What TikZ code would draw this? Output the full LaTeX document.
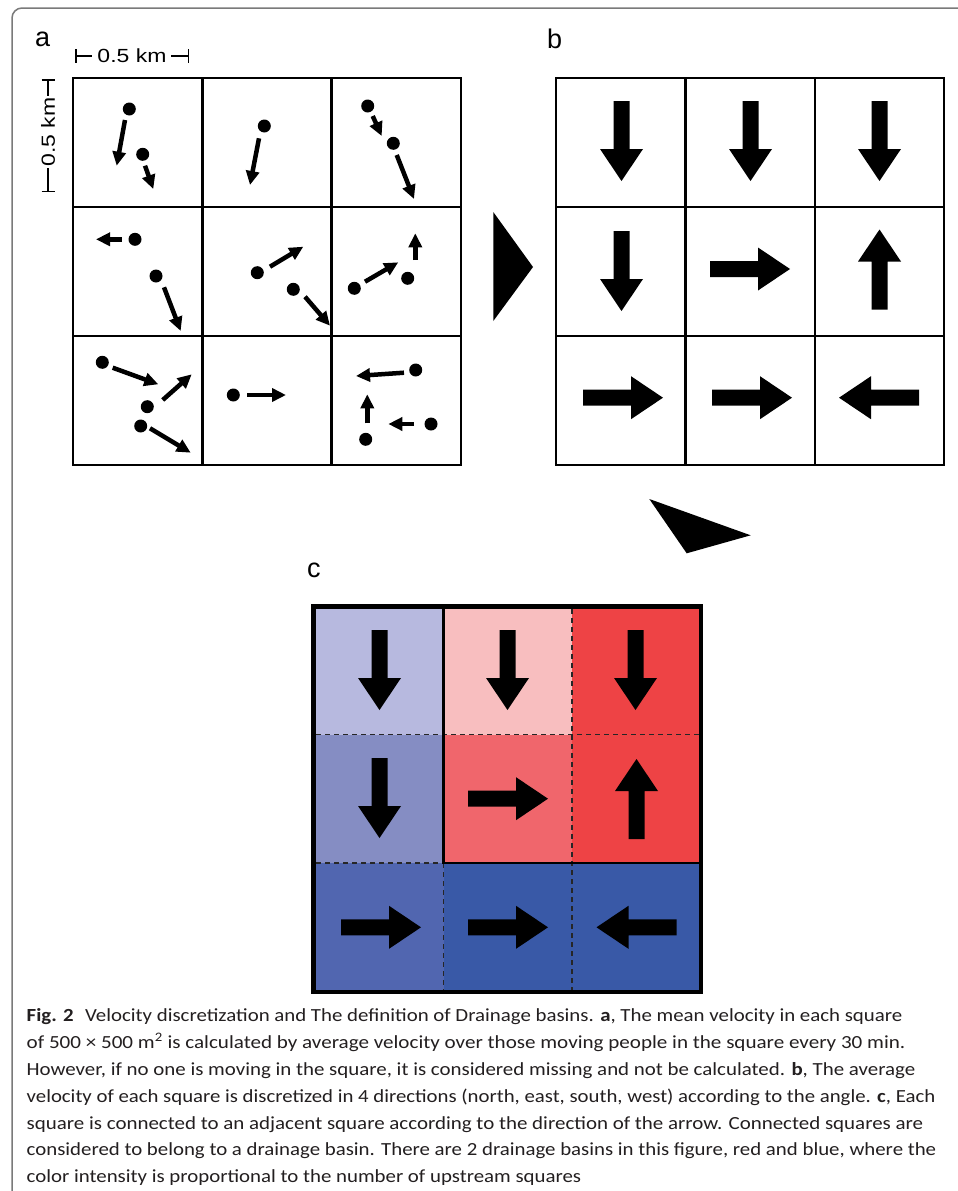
\documentclass[tikz,border=0pt]{standalone}
\usepackage{fontspec}
\usepackage{graphicx}
\setmainfont{Liberation Sans}
\newfontfamily\capfont{Carlito}
\usetikzlibrary{arrows.meta}
\definecolor{frameg}{HTML}{7A7A7A}
\definecolor{capcol}{HTML}{231F20}
\definecolor{cA}{HTML}{B7B9DF}
\definecolor{cB}{HTML}{F8BEBF}
\definecolor{cC}{HTML}{EE4345}
\definecolor{cD}{HTML}{858DC3}
\definecolor{cE}{HTML}{F0666C}
\definecolor{cF}{HTML}{5166B0}
\definecolor{cG}{HTML}{3959A7}
\tikzset{
  gridline/.style={line width=2.6pt},
  vel/.style={line width=4.5pt, -{Triangle[length=14pt,width=13pt]}},
  blk/.pic={\fill (-40,-8) -- (8,-8) -- (8,-21.5) -- (40,0) -- (8,21.5) -- (8,8) -- (-40,8) -- cycle;},
  lbl/.style={anchor=base west, inner sep=0pt, font=\fontsize{27}{27}\selectfont},
  scl/.style={line width=1.4pt},
  capline/.style={anchor=base west, inner sep=0pt, font=\capfont\fontsize{18.5}{20}\selectfont, text=capcol},
  dsh/.style={line width=1.3pt, dash pattern=on 5pt off 4pt, black!85},
}
\begin{document}
\begin{tikzpicture}[x=1pt,y=-1pt]
\useasboundingbox (0,0) rectangle (958,1191);
\fill[white] (0,0) rectangle (958,1191);
% frame
\draw[frameg, line width=1.5pt, rounded corners=10pt] (12,1200) -- (12,8) -- (975,8);

% labels
\node[lbl] (la) at (35,46.7) {a};
\node[lbl] (lb) at (547,48) {b};
\node[lbl] (lc) at (307,577) {c};

% scale bars
\draw[scl] (76,49) -- (76,63) (76,56) -- (92,56);
\node[inner sep=0pt, font=\fontsize{19}{19}\selectfont] (sh) at (132,56) {\resizebox{69pt}{\height}{0.5 km}};
\draw[scl] (171,56) -- (188.3,56) (188.3,49) -- (188.3,63);
\draw[scl] (41.5,80) -- (55,80) (48,80) -- (48,96);
\node[inner sep=0pt, rotate=90, font=\fontsize{19}{19}\selectfont] (sv) at (48,132) {\resizebox{69pt}{\height}{0.5 km}};
\draw[scl] (48,168) -- (48,191.5) (41.5,191.5) -- (55,191.5);

% grid a
\draw[gridline] (73,78) rectangle (461,465);
\draw[gridline] (202.3,78) -- (202.3,465) (331.7,78) -- (331.7,465)
  (73,207) -- (461,207) (73,336) -- (461,336);

% dots and velocity arrows in grid a
\foreach \p in {(129.3,109),(142.7,154.3),(264.3,126),(367.7,106),(393.3,143.3),
  (135,239.3),(156,276),(257.3,272.7),(293.3,289.3),(354.3,288.3),(407.7,278.3),
  (102.3,362.3),(147.3,406.7),(140.7,426),(233.3,395),(415.7,370),(431,424),(365.7,439.3)}
  \fill \p circle (6.5pt);
\draw[vel] (125,120) -- (116.7,165.7);
\draw[vel] (145,165.7) -- (153.3,189);
\draw[vel] (259,138.3) -- (250,185);
\draw[vel] (372.7,116) -- (381.7,136);
\draw[vel] (396.7,155) -- (414,199);
\draw[vel] (121.7,239.3) -- (96,239.3);
\draw[vel] (164,287.3) -- (180.7,331);
\draw[vel] (270,266.7) -- (303.3,246.7);
\draw[vel] (305,296.7) -- (330,325.7);
\draw[vel] (365,281.7) -- (398.3,262.3);
\draw[vel] (415.3,260) -- (415.3,233.3);
\draw[vel] (112.7,367.7) -- (158.3,384.3);
\draw[vel] (162.7,400) -- (191.7,374.3);
\draw[vel] (150,428.3) -- (190.7,452.7);
\draw[vel] (247.3,395) -- (286,395);
\draw[vel] (404,372.7) -- (356,376);
\draw[vel] (414,424) -- (388.3,424);
\draw[vel] (367.3,423.3) -- (367.3,394.3);

% big triangles
\fill (493.3,212) -- (533,267) -- (493.3,321) -- cycle;
\fill (649.3,499) -- (750.7,535.3) -- (686.7,553.3) -- cycle;

% grid b
\draw[gridline] (556,78) rectangle (944,465);
\draw[gridline] (685.5,78) -- (685.5,465) (815,78) -- (815,465)
  (556,207) -- (944,207) (556,336) -- (944,336);
\pic[rotate=-90] at (621.5,141) {blk};
\pic[rotate=-90] at (750.5,141) {blk};
\pic[rotate=-90] at (879.5,141) {blk};
\pic[rotate=-90] at (621.5,271) {blk};
\pic at (750,269) {blk};
\pic[rotate=90] at (879.5,269.5) {blk};
\pic at (623,397.7) {blk};
\pic at (752,397.7) {blk};
\pic[rotate=180] at (879,397.7) {blk};

% grid c
\fill[cA] (313.5,606.5) rectangle (443.5,734.5);
\fill[cB] (443.5,606.5) rectangle (572,734.5);
\fill[cC] (572,606.5) rectangle (701,734.5);
\fill[cD] (313.5,734.5) rectangle (443.5,863);
\fill[cE] (443.5,734.5) rectangle (572,863);
\fill[cC] (572,734.5) rectangle (701,863);
\fill[cF] (313.5,863) rectangle (443.5,992);
\fill[cG] (443.5,863) rectangle (701,992);
\draw[dsh] (316,734.5) -- (699,734.5);
\draw[dsh] (572,609) -- (572,990);
\draw[dsh] (316,863) -- (443.5,863);
\draw[dsh] (443.5,863) -- (443.5,990);
\draw[line width=2.6pt] (443.5,606.5) -- (443.5,863) -- (701,863);
\draw[line width=4.6pt] (313.5,606.5) rectangle (701,992);
\pic[rotate=-90] at (379.5,670) {blk};
\pic[rotate=-90] at (507.5,670) {blk};
\pic[rotate=-90] at (635.5,670) {blk};
\pic[rotate=-90] at (379.5,798) {blk};
\pic at (508,798.7) {blk};
\pic[rotate=90] at (636.5,799) {blk};
\pic at (381,927.3) {blk};
\pic at (508,927.3) {blk};
\pic[rotate=180] at (636.5,927.3) {blk};

% caption
\node[capline] (l1) at (26.5,1021) {\resizebox{875.5pt}{\height}{\textbf{Fig. 2}\hspace{0.55em}Velocity discretization and The definition of Drainage basins. \textbf{a}, The mean velocity in each square}};
\node[capline] (l2) at (26.5,1048) {\resizebox{878.5pt}{\height}{of 500 × 500 m\textsuperscript{2} is calculated by average velocity over those moving people in the square every 30 min.}};
\node[capline] (l3) at (26.5,1075) {\resizebox{888.5pt}{\height}{However, if no one is moving in the square, it is considered missing and not be calculated. \textbf{b}, The average}};
\node[capline] (l4) at (26.5,1102) {\resizebox{908.5pt}{\height}{velocity of each square is discretized in 4 directions (north, east, south, west) according to the angle. \textbf{c}, Each}};
\node[capline] (l5) at (26.5,1129) {\resizebox{896.5pt}{\height}{square is connected to an adjacent square according to the direction of the arrow. Connected squares are}};
\node[capline] (l6) at (26.5,1155) {\resizebox{909.5pt}{\height}{considered to belong to a drainage basin. There are 2 drainage basins in this figure, red and blue, where the}};
\node[capline] (l7) at (26.5,1182) {\resizebox{554.5pt}{\height}{color intensity is proportional to the number of upstream squares}};
\end{tikzpicture}
\end{document}
